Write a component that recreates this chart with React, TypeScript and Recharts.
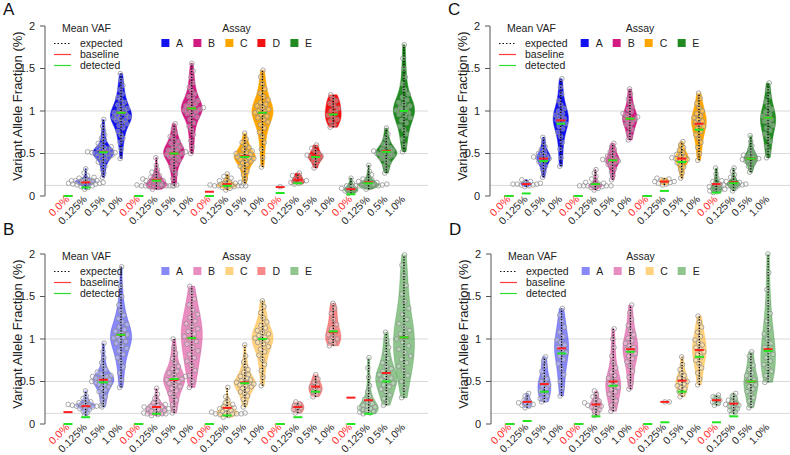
import React from "react";
import { CartesianGrid, ComposedChart, Scatter, XAxis, YAxis } from "recharts";

const FONT = '"Liberation Sans", Arial, Helvetica, sans-serif';
const LEVELS = ["0.0%", "0.125%", "0.5%", "1.0%"];
const Y_TICKS = [0, 0.5, 1, 1.5, 2];
const GRID_VALUES = [0, 0.125, 0.5, 1];

const ASSAY_COLORS: Record<string, string> = {
  A: "#1212f0",
  B: "#d21c82",
  C: "#ffa500",
  D: "#f31212",
  E: "#218b21",
};

// ---- panel A (per assay: points for 0.0%, 0.125%, 0.5%, 1.0%) ----
const pA_A = [
  [],
  [0.08, 0.1, 0.11, 0.12, 0.13, 0.13, 0.14, 0.14, 0.15, 0.15, 0.15, 0.16, 0.16, 0.16, 0.17, 0.17, 0.17, 0.17, 0.18, 0.18, 0.18, 0.18, 0.18, 0.19, 0.19, 0.2, 0.21, 0.22, 0.24, 0.27, 0.32],
  [0.22, 0.27, 0.31, 0.35, 0.38, 0.4, 0.42, 0.44, 0.45, 0.46, 0.47, 0.48, 0.49, 0.5, 0.5, 0.51, 0.51, 0.52, 0.52, 0.53, 0.54, 0.55, 0.56, 0.57, 0.58, 0.6, 0.62, 0.65, 0.68, 0.72, 0.77, 0.82, 0.9],
  [0.44, 0.55, 0.63, 0.68, 0.72, 0.76, 0.8, 0.83, 0.85, 0.87, 0.89, 0.9, 0.91, 0.92, 0.93, 0.95, 0.96, 0.97, 0.98, 1.0, 1.01, 1.03, 1.05, 1.07, 1.1, 1.13, 1.16, 1.2, 1.25, 1.3, 1.36, 1.44],
];
const pA_B = [
  [],
  [0.08, 0.1, 0.11, 0.12, 0.12, 0.12, 0.12, 0.12, 0.12, 0.12, 0.13, 0.14, 0.15, 0.16, 0.17, 0.18, 0.18, 0.19, 0.2, 0.21, 0.22, 0.24, 0.26, 0.28, 0.31, 0.36, 0.45],
  [0.12, 0.13, 0.2, 0.26, 0.3, 0.34, 0.37, 0.4, 0.42, 0.44, 0.46, 0.47, 0.48, 0.49, 0.5, 0.51, 0.52, 0.53, 0.54, 0.55, 0.57, 0.58, 0.6, 0.62, 0.64, 0.67, 0.7, 0.74, 0.79, 0.85],
  [0.5, 0.58, 0.65, 0.72, 0.78, 0.82, 0.86, 0.9, 0.93, 0.95, 0.97, 0.99, 1.0, 1.01, 1.02, 1.03, 1.04, 1.05, 1.06, 1.08, 1.1, 1.12, 1.14, 1.17, 1.2, 1.24, 1.28, 1.33, 1.4, 1.47, 1.56],
];
const pA_C = [
  [],
  [0.07, 0.09, 0.1, 0.11, 0.12, 0.12, 0.12, 0.12, 0.12, 0.12, 0.13, 0.13, 0.14, 0.14, 0.15, 0.15, 0.16, 0.17, 0.18, 0.19, 0.21, 0.23, 0.26],
  [0.15, 0.2, 0.25, 0.29, 0.32, 0.35, 0.37, 0.39, 0.41, 0.42, 0.43, 0.44, 0.45, 0.46, 0.47, 0.48, 0.49, 0.5, 0.51, 0.53, 0.55, 0.57, 0.6, 0.63, 0.67, 0.74],
  [0.34, 0.45, 0.55, 0.63, 0.7, 0.75, 0.8, 0.84, 0.87, 0.9, 0.92, 0.94, 0.96, 0.98, 0.99, 1.0, 1.02, 1.04, 1.06, 1.08, 1.1, 1.13, 1.17, 1.21, 1.26, 1.32, 1.4, 1.48],
];
const pA_D = [
  [0.11],
  [0.14, 0.15, 0.16, 0.17, 0.18, 0.2, 0.22, 0.24, 0.27],
  [0.33, 0.38, 0.41, 0.43, 0.45, 0.46, 0.47, 0.48, 0.5, 0.53, 0.56, 0.6],
  [0.81, 0.84, 0.88, 0.9, 0.93, 0.95, 0.98, 1.0, 1.03, 1.06, 1.09, 1.12, 1.15, 1.19],
];
const pA_E = [
  [0.03, 0.05, 0.06, 0.07, 0.08, 0.09, 0.1, 0.12, 0.15, 0.21],
  [0.08, 0.1, 0.11, 0.12, 0.12, 0.12, 0.12, 0.12, 0.13, 0.13, 0.14, 0.14, 0.15, 0.15, 0.16, 0.17, 0.18, 0.19, 0.2, 0.22, 0.25, 0.29, 0.36],
  [0.27, 0.32, 0.36, 0.39, 0.42, 0.44, 0.46, 0.47, 0.48, 0.49, 0.5, 0.51, 0.52, 0.53, 0.54, 0.55, 0.57, 0.59, 0.61, 0.64, 0.68, 0.73, 0.8],
  [0.52, 0.6, 0.67, 0.73, 0.78, 0.82, 0.86, 0.89, 0.92, 0.94, 0.96, 0.98, 1.0, 1.01, 1.02, 1.04, 1.06, 1.08, 1.1, 1.13, 1.16, 1.2, 1.25, 1.32, 1.4, 1.5, 1.62, 1.78],
];
const pA_base = [
  [0, 0.16, 0.52, 0.98],
  [0, 0.19, 0.5, 1.03],
  [0.05, 0.14, 0.47, 0.98],
  [0.105, 0.19, 0.47, 0.97],
  [0.08, 0.16, 0.53, 1.0],
];
const pA_det = [
  [0, 0.1, 0.515, 0.98],
  [0, 0.18, 0.5, 1.03],
  [0, 0.12, 0.46, 0.98],
  [0.035, 0.15, 0.46, 0.96],
  [0.02, 0.15, 0.52, 1.0],
];

// ---- panel B ----
const pB_A = [
  [],
  [0.1, 0.13, 0.15, 0.17, 0.18, 0.19, 0.2, 0.21, 0.21, 0.22, 0.22, 0.22, 0.22, 0.23, 0.24, 0.25, 0.26, 0.28, 0.3, 0.33, 0.39],
  [0.2, 0.24, 0.28, 0.32, 0.35, 0.38, 0.4, 0.42, 0.44, 0.46, 0.47, 0.48, 0.49, 0.5, 0.51, 0.52, 0.53, 0.54, 0.55, 0.56, 0.56, 0.57, 0.59, 0.61, 0.64, 0.68, 0.72, 0.78, 0.85, 0.95],
  [0.43, 0.52, 0.6, 0.67, 0.73, 0.78, 0.82, 0.86, 0.89, 0.92, 0.95, 0.97, 0.99, 1.01, 1.02, 1.03, 1.05, 1.07, 1.09, 1.11, 1.14, 1.17, 1.2, 1.24, 1.28, 1.33, 1.4, 1.5, 1.62, 1.85],
];
const pB_B = [
  [],
  [0.1, 0.11, 0.12, 0.12, 0.12, 0.13, 0.14, 0.15, 0.16, 0.17, 0.18, 0.18, 0.19, 0.2, 0.2, 0.21, 0.22, 0.23, 0.25, 0.27, 0.3, 0.35, 0.42],
  [0.13, 0.18, 0.23, 0.28, 0.32, 0.36, 0.39, 0.42, 0.44, 0.46, 0.48, 0.5, 0.51, 0.52, 0.53, 0.54, 0.56, 0.58, 0.6, 0.62, 0.65, 0.68, 0.72, 0.77, 0.83, 0.9, 1.0],
  [0.43, 0.5, 0.57, 0.63, 0.69, 0.74, 0.78, 0.82, 0.86, 0.9, 0.94, 0.97, 1.0, 1.03, 1.06, 1.09, 1.12, 1.15, 1.18, 1.21, 1.25, 1.29, 1.34, 1.4, 1.47, 1.55, 1.62],
];
const pB_C = [
  [],
  [0.08, 0.1, 0.11, 0.12, 0.12, 0.12, 0.12, 0.12, 0.13, 0.14, 0.15, 0.16, 0.17, 0.18, 0.19, 0.2, 0.21, 0.23, 0.25, 0.28, 0.32, 0.43],
  [0.2, 0.25, 0.29, 0.33, 0.36, 0.38, 0.4, 0.42, 0.44, 0.45, 0.46, 0.47, 0.48, 0.49, 0.5, 0.51, 0.52, 0.54, 0.56, 0.58, 0.61, 0.64, 0.68, 0.73, 0.8, 0.93],
  [0.45, 0.55, 0.63, 0.7, 0.76, 0.81, 0.85, 0.88, 0.91, 0.94, 0.96, 0.98, 1.0, 1.01, 1.02, 1.04, 1.06, 1.08, 1.1, 1.13, 1.16, 1.2, 1.25, 1.31, 1.38, 1.45],
];
const pB_D = [
  [],
  [0.13, 0.15, 0.17, 0.19, 0.2, 0.22, 0.24, 0.26],
  [0.32, 0.35, 0.38, 0.4, 0.42, 0.44, 0.46, 0.49, 0.53, 0.58],
  [0.92, 0.95, 0.98, 1.0, 1.02, 1.05, 1.08, 1.12, 1.17, 1.23, 1.3, 1.36, 1.42],
];
const pB_E = [
  [],
  [0.12, 0.13, 0.14, 0.15, 0.16, 0.17, 0.18, 0.19, 0.2, 0.21, 0.22, 0.24, 0.26, 0.29, 0.33, 0.38, 0.45, 0.55, 0.66, 0.78],
  [0.22, 0.26, 0.3, 0.34, 0.38, 0.41, 0.44, 0.46, 0.48, 0.5, 0.52, 0.54, 0.56, 0.58, 0.6, 0.62, 0.65, 0.68, 0.72, 0.77, 0.83, 0.9, 0.98, 1.08],
  [0.31, 0.42, 0.5, 0.57, 0.63, 0.68, 0.72, 0.76, 0.8, 0.84, 0.88, 0.92, 0.96, 1.0, 1.03, 1.06, 1.1, 1.14, 1.18, 1.23, 1.29, 1.36, 1.44, 1.53, 1.63, 1.75, 1.87, 1.99],
];
const pB_base = [
  [0.14, 0.21, 0.52, 1.05],
  [0, 0.2, 0.52, 1.01],
  [0, 0.19, 0.49, 1.0],
  [0, 0.2, 0.44, 1.08],
  [0.31, 0.28, 0.6, 1.02],
];
const pB_det = [
  [0, 0.08, 0.49, 1.05],
  [0, 0.12, 0.53, 1.01],
  [0, 0.1, 0.48, 1.0],
  [0, 0.08, 0.38, 1.09],
  [0, 0.12, 0.5, 1.02],
];

// ---- panel C ----
const pC_A = [
  [],
  [0.11, 0.12, 0.13, 0.13, 0.14, 0.14, 0.14, 0.15, 0.15, 0.15, 0.16, 0.17, 0.19],
  [0.22, 0.28, 0.32, 0.35, 0.38, 0.4, 0.42, 0.43, 0.44, 0.45, 0.46, 0.47, 0.48, 0.5, 0.52, 0.55, 0.58, 0.63, 0.69],
  [0.35, 0.45, 0.55, 0.63, 0.7, 0.75, 0.79, 0.82, 0.85, 0.87, 0.89, 0.91, 0.93, 0.95, 0.97, 1.0, 1.03, 1.07, 1.12, 1.2, 1.28, 1.38],
];
const pC_B = [
  [],
  [0.07, 0.09, 0.1, 0.11, 0.12, 0.12, 0.12, 0.12, 0.12, 0.12, 0.13, 0.14, 0.15, 0.16, 0.18, 0.2, 0.23, 0.27, 0.31],
  [0.19, 0.24, 0.28, 0.32, 0.35, 0.37, 0.39, 0.4, 0.41, 0.42, 0.43, 0.44, 0.45, 0.47, 0.49, 0.52, 0.55, 0.58, 0.62],
  [0.66, 0.7, 0.74, 0.78, 0.81, 0.84, 0.86, 0.88, 0.9, 0.91, 0.92, 0.93, 0.95, 0.97, 0.99, 1.02, 1.05, 1.09, 1.14, 1.2, 1.26],
];
const pC_C = [
  [],
  [0.13, 0.14, 0.15, 0.16, 0.17, 0.17, 0.18, 0.19, 0.2, 0.21],
  [0.21, 0.27, 0.31, 0.34, 0.37, 0.39, 0.41, 0.42, 0.43, 0.44, 0.45, 0.46, 0.47, 0.49, 0.51, 0.54, 0.57, 0.6, 0.64],
  [0.42, 0.5, 0.57, 0.63, 0.68, 0.72, 0.76, 0.79, 0.82, 0.84, 0.86, 0.88, 0.9, 0.92, 0.94, 0.97, 1.0, 1.04, 1.09, 1.15, 1.21],
];
const pC_E = [
  [0.04, 0.05, 0.06, 0.07, 0.08, 0.09, 0.1, 0.11, 0.12, 0.14, 0.17, 0.21, 0.26, 0.33],
  [0.06, 0.09, 0.11, 0.12, 0.12, 0.13, 0.13, 0.14, 0.14, 0.15, 0.15, 0.16, 0.17, 0.18, 0.2, 0.22, 0.25, 0.29, 0.33],
  [0.28, 0.32, 0.35, 0.38, 0.4, 0.41, 0.42, 0.43, 0.44, 0.45, 0.46, 0.47, 0.48, 0.5, 0.52, 0.55, 0.59, 0.64, 0.71],
  [0.45, 0.52, 0.58, 0.64, 0.69, 0.73, 0.77, 0.8, 0.83, 0.86, 0.88, 0.9, 0.92, 0.94, 0.96, 0.99, 1.02, 1.06, 1.11, 1.17, 1.25, 1.33],
];
const pC_base = [
  [0, 0.14, 0.44, 0.89],
  [0, 0.14, 0.42, 0.91],
  [0, 0.17, 0.44, 0.85],
  [0.14, 0.16, 0.44, 0.92],
];
const pC_det = [
  [0, 0.03, 0.41, 0.85],
  [0, 0.14, 0.42, 0.91],
  [0, 0.06, 0.4, 0.78],
  [0.04, 0.15, 0.44, 0.92],
];

// ---- panel D ----
const pD_A = [
  [],
  [0.19, 0.21, 0.22, 0.23, 0.24, 0.25, 0.26, 0.28, 0.3, 0.33, 0.36],
  [0.26, 0.28, 0.3, 0.33, 0.36, 0.39, 0.42, 0.44, 0.46, 0.48, 0.5, 0.53, 0.57, 0.62, 0.68, 0.74, 0.79],
  [0.33, 0.42, 0.5, 0.58, 0.65, 0.71, 0.76, 0.8, 0.84, 0.87, 0.9, 0.93, 0.96, 0.99, 1.03, 1.08, 1.14, 1.21, 1.28, 1.36],
];
const pD_B = [
  [],
  [0.1, 0.13, 0.15, 0.17, 0.19, 0.2, 0.21, 0.22, 0.23, 0.24, 0.25, 0.27, 0.29, 0.32, 0.35, 0.39],
  [0.15, 0.18, 0.22, 0.27, 0.31, 0.35, 0.38, 0.41, 0.43, 0.45, 0.47, 0.49, 0.51, 0.54, 0.57, 0.61, 0.66, 0.72, 0.8, 0.9, 1.0, 1.12],
  [0.41, 0.48, 0.55, 0.62, 0.68, 0.73, 0.77, 0.8, 0.83, 0.86, 0.88, 0.9, 0.92, 0.95, 0.98, 1.01, 1.05, 1.1, 1.16, 1.23, 1.31, 1.4],
];
const pD_C = [
  [],
  [0.26, 0.26],
  [0.32, 0.35, 0.38, 0.41, 0.43, 0.45, 0.47, 0.49, 0.5, 0.52, 0.54, 0.57, 0.6, 0.64, 0.7, 0.79],
  [0.46, 0.53, 0.6, 0.66, 0.71, 0.75, 0.79, 0.82, 0.85, 0.88, 0.9, 0.93, 0.96, 0.99, 1.03, 1.08, 1.14, 1.2, 1.27],
];
const pD_E = [
  [0.22, 0.24, 0.26, 0.28, 0.3, 0.32, 0.34],
  [0.12, 0.14, 0.16, 0.18, 0.2, 0.21, 0.22, 0.23, 0.24, 0.26, 0.28, 0.3, 0.33, 0.36],
  [0.19, 0.23, 0.27, 0.31, 0.35, 0.38, 0.41, 0.44, 0.46, 0.48, 0.5, 0.52, 0.54, 0.57, 0.6, 0.64, 0.69, 0.75, 0.8, 0.85],
  [0.49, 0.53, 0.57, 0.62, 0.66, 0.7, 0.74, 0.78, 0.82, 0.86, 0.9, 0.95, 1.0, 1.06, 1.13, 1.21, 1.3, 1.42, 1.58, 1.78, 2.0],
];
const pD_base = [
  [0, 0.26, 0.47, 0.89],
  [0, 0.23, 0.5, 0.88],
  [0, 0.26, 0.51, 0.87],
  [0.28, 0.24, 0.5, 0.88],
];
const pD_det = [
  [0, 0.035, 0.38, 0.83],
  [0, 0.09, 0.45, 0.85],
  [0, 0.02, 0.38, 0.79],
  [0.02, 0.09, 0.5, 0.86],
];

type PanelDef = {
  letter: string;
  left: number;
  top: number;
  width: number;
  height: number;
  marginTop: number;
  marginRight: number;
  xAxisHeight: number;
  domain: [number, number];
  assays: string[];
  points: number[][][];
  base: number[][];
  det: number[][];
  faded: boolean;
  halfWidth: number;
};

const YAXIS_W = 45;

const PANELS: PanelDef[] = [
  {
    letter: "A", left: 0, top: 0, width: 430, height: 230, marginTop: 26, marginRight: 2, xAxisHeight: 34,
    domain: [-0.3, 21.36], assays: ["A", "B", "C", "D", "E"],
    points: [pA_A, pA_B, pA_C, pA_D, pA_E], base: pA_base, det: pA_det, faded: false, halfWidth: 0.6,
  },
  {
    letter: "B", left: 0, top: 225, width: 430, height: 230, marginTop: 29, marginRight: 2, xAxisHeight: 31,
    domain: [-0.3, 21.36], assays: ["A", "B", "C", "D", "E"],
    points: [pB_A, pB_B, pB_C, pB_D, pB_E], base: pB_base, det: pB_det, faded: true, halfWidth: 0.6,
  },
  {
    letter: "C", left: 445, top: 0, width: 345, height: 230, marginTop: 26, marginRight: 0, xAxisHeight: 34,
    domain: [-0.1, 17.27], assays: ["A", "B", "C", "E"],
    points: [pC_A, pC_B, pC_C, pC_E], base: pC_base, det: pC_det, faded: false, halfWidth: 0.45,
  },
  {
    letter: "D", left: 446, top: 225, width: 344, height: 230, marginTop: 29, marginRight: 0, xAxisHeight: 31,
    domain: [-0.1, 17.27], assays: ["A", "B", "C", "E"],
    points: [pD_A, pD_B, pD_C, pD_E], base: pD_base, det: pD_det, faded: true, halfWidth: 0.45,
  },
];

type XY = { x: number; y: number };

function bandwidth(v: number[]) {
  const n = v.length;
  const m = v.reduce((s, x) => s + x, 0) / n;
  const sd = Math.sqrt(v.reduce((s, x) => s + (x - m) ** 2, 0) / Math.max(1, n - 1));
  const s = [...v].sort((a, b) => a - b);
  const q = (f: number) => {
    const i = f * (n - 1);
    const lo = Math.floor(i);
    return s[lo] + (s[Math.min(n - 1, lo + 1)] - s[lo]) * (i - lo);
  };
  const iqr = (q(0.75) - q(0.25)) / 1.34;
  const spread = iqr > 0 ? Math.min(sd, iqr) : sd;
  return Math.max(0.9 * spread * Math.pow(n, -0.2), 0.012);
}

function buildPanel(p: PanelDef) {
  const pxX = (p.width - YAXIS_W - p.marginRight) / (p.domain[1] - p.domain[0]);
  const pxY = (p.height - p.marginTop - p.xAxisHeight) / 2;
  const violins: { key: string; color: string; outline: XY[]; stem: XY[] }[] = [];
  const dots: XY[] = [];
  const base: XY[] = [];
  const det: XY[] = [];

  p.assays.forEach((assay, ai) => {
    p.points[ai].forEach((vals, li) => {
      const cx = ai * 4 + li + 1;
      base.push({ x: cx, y: p.base[ai][li] });
      det.push({ x: cx, y: p.det[ai][li] });
      if (vals.length === 0) return;

      const lo = Math.min(...vals);
      const hi = Math.max(...vals);
      let hwAt = (_y: number) => 0;
      if (vals.length >= 3 && hi - lo > 0.02) {
        const bw = bandwidth(vals);
        const dens = (y: number) => vals.reduce((s, v) => s + Math.exp(-0.5 * ((y - v) / bw) ** 2), 0);
        const ys = Array.from({ length: 33 }, (_, k) => lo + ((hi - lo) * k) / 32);
        const ds = ys.map(dens);
        const dmax = Math.max(...ds);
        const half = p.halfWidth * Math.min(1, 0.35 + vals.length / 35);
        hwAt = (y: number) => (half * dens(y)) / dmax;
        const right = ys.map((y, k) => ({ x: cx + (half * ds[k]) / dmax, y }));
        const left = ys.map((y, k) => ({ x: cx - (half * ds[k]) / dmax, y })).reverse();
        violins.push({
          key: `${assay}-${li}`,
          color: ASSAY_COLORS[assay],
          outline: [{ x: cx, y: lo }, ...right, { x: cx, y: hi }, ...left],
          stem: [{ x: cx, y: lo }, { x: cx, y: hi }],
        });
      }

      // swarm the dots inside / just around the violin
      const sorted = [...vals].sort((a, b) => a - b);
      const placed: { px: number; py: number }[] = [];
      sorted.forEach((v, j) => {
        const room = hwAt(v) * pxX;
        const target = (((j * 0.618034) % 1) * 2 - 1) * room * 0.75;
        const limit = room + 9;
        const py = v * pxY;
        let best = target;
        for (let s = 0; s < 60; s++) {
          const cand = target + (s % 2 ? 1 : -1) * Math.ceil(s / 2) * 1.1;
          if (Math.abs(cand) > limit) continue;
          if (placed.every((q) => (q.px - cand) ** 2 + (q.py - py) ** 2 >= 13)) {
            best = cand;
            break;
          }
        }
        placed.push({ px: best, py });
        dots.push({ x: cx + best / pxX, y: v });
      });
    });
  });
  return { violins, dots, base, det };
}

function ViolinBody(props: any) {
  const { points, tone, alpha } = props;
  if (!points || points.length < 3) return null;
  const d = points.map((pt: any, k: number) => `${k ? "L" : "M"}${pt.x},${pt.y}`).join("") + "Z";
  return <path d={d} fill={tone} fillOpacity={alpha} stroke={tone} strokeOpacity={alpha} strokeWidth={0.5} />;
}

function Stem(props: any) {
  const { points } = props;
  if (!points || points.length < 2) return null;
  return (
    <line
      x1={points[0].x}
      y1={points[0].y}
      x2={points[1].x}
      y2={points[1].y}
      stroke="#000"
      strokeWidth={1.3}
      strokeDasharray="1.2 1.6"
    />
  );
}

const hiddenShape = () => <g />;

const dotShape = (props: any) => (
  <circle cx={props.cx} cy={props.cy} r={2.3} fill="rgba(255,255,255,0.3)" stroke="#8e8e8e" strokeWidth={0.75} />
);

const meanShape = (color: string) => (props: any) => (
  <line x1={props.cx - 4.5} x2={props.cx + 4.5} y1={props.cy} y2={props.cy} stroke={color} strokeWidth={2} />
);

function LevelTick(props: any) {
  const { x, y, payload } = props;
  const idx = Math.round(payload.value) - 1;
  const label = LEVELS[((idx % 4) + 4) % 4];
  const ax = x + 2;
  return (
    <text
      x={ax}
      y={y}
      transform={`rotate(-45 ${ax} ${y})`}
      textAnchor="end"
      fontSize={10.5}
      fontFamily={FONT}
      fill={label === "0.0%" ? "#ff2a2a" : "#2a2a2a"}
    >
      {label}
    </text>
  );
}

const LEGEND_ROWS = [
  { label: "expected", stroke: "#111", dash: "1.5 2" },
  { label: "baseline", stroke: "#ff3b3b", dash: undefined },
  { label: "detected", stroke: "#2fdc2f", dash: undefined },
];

function MeanLegend({ p }: { p: PanelDef }) {
  return (
    <div
      style={{
        position: "absolute",
        left: YAXIS_W + 9,
        top: p.marginTop - 3.5,
        fontSize: 10.5,
        lineHeight: "11px",
        color: "#222",
        fontFamily: FONT,
      }}
    >
      <div style={{ marginLeft: 8, marginBottom: 4 }}>Mean VAF</div>
      {LEGEND_ROWS.map((r) => (
        <div key={r.label} style={{ display: "flex", alignItems: "center", height: 11 }}>
          <svg width={17} height={11}>
            <line x1={0} x2={17} y1={5.5} y2={5.5} stroke={r.stroke} strokeWidth={1.2} strokeDasharray={r.dash} />
          </svg>
          <span style={{ marginLeft: 9 }}>{r.label}</span>
        </div>
      ))}
    </div>
  );
}

function AssayLegend({ p }: { p: PanelDef }) {
  const plotW = p.width - YAXIS_W - p.marginRight;
  return (
    <div
      style={{
        position: "absolute",
        left: YAXIS_W + plotW / 2,
        top: p.marginTop - 3.5,
        transform: "translateX(-50%)",
        fontSize: 10.5,
        lineHeight: "11px",
        color: "#222",
        fontFamily: FONT,
        textAlign: "center",
        whiteSpace: "nowrap",
      }}
    >
      <div style={{ marginBottom: 4 }}>Assay</div>
      <div style={{ display: "flex", alignItems: "center", height: 11 }}>
        {p.assays.map((a, k) => (
          <div key={a} style={{ display: "flex", alignItems: "center", marginRight: k === p.assays.length - 1 ? 0 : 10 }}>
            <span
              style={{
                display: "inline-block",
                width: 8,
                height: 8,
                background: ASSAY_COLORS[a],
                opacity: p.faded ? 0.5 : 1,
                marginRight: 7,
              }}
            />
            <span>{a}</span>
          </div>
        ))}
      </div>
    </div>
  );
}

function Panel({ p }: { p: PanelDef }) {
  const { violins, dots, base, det } = buildPanel(p);
  const alpha = p.faded ? 0.5 : 1;
  const ticks = Array.from({ length: p.assays.length * 4 }, (_, k) => k + 1);
  return (
    <div style={{ position: "absolute", left: p.left, top: p.top, width: p.width, height: p.height }}>
      <ComposedChart
        width={p.width}
        height={p.height}
        margin={{ top: p.marginTop, right: p.marginRight, bottom: 0, left: 0 }}
      >
        <CartesianGrid vertical={false} horizontalValues={GRID_VALUES} stroke="#d9d9d9" />
        <XAxis
          type="number"
          dataKey="x"
          domain={p.domain}
          ticks={ticks}
          interval={0}
          height={p.xAxisHeight}
          axisLine={false}
          tickLine={false}
          tickSize={0}
          tickMargin={4}
          tick={(props: any) => <LevelTick {...props} />}
        />
        <YAxis
          type="number"
          dataKey="y"
          domain={[0, 2]}
          ticks={Y_TICKS}
          width={YAXIS_W}
          stroke="#555"
          tickSize={5}
          tickMargin={5}
          tick={{ fill: "#222", fontSize: 11, fontFamily: FONT }}
          label={{
            content: (lp: any) => {
              const vb = lp.viewBox || { x: 0, y: p.marginTop, height: 170 };
              const cx = vb.x + 17;
              const cy = vb.y + vb.height / 2 - 5;
              return (
                <text
                  x={cx}
                  y={cy}
                  transform={`rotate(-90 ${cx} ${cy})`}
                  textAnchor="middle"
                  dominantBaseline="central"
                  fontSize={13}
                  fontFamily={FONT}
                  fill="#222"
                >
                  Variant Allele Fraction (%)
                </text>
              );
            },
          }}
        />
        {violins.map((v) => (
          <Scatter
            key={`v-${v.key}`}
            data={v.outline}
            shape={hiddenShape}
            line={<ViolinBody tone={v.color} alpha={alpha} />}
            isAnimationActive={false}
          />
        ))}
        <Scatter data={dots} shape={dotShape} isAnimationActive={false} />
        {violins.map((v) => (
          <Scatter key={`s-${v.key}`} data={v.stem} shape={hiddenShape} line={<Stem />} isAnimationActive={false} />
        ))}
        <Scatter data={base} shape={meanShape("#ff1f1f")} isAnimationActive={false} />
        <Scatter data={det} shape={meanShape("#22e622")} isAnimationActive={false} />
      </ComposedChart>
      <MeanLegend p={p} />
      <AssayLegend p={p} />
      <div
        style={{
          position: "absolute",
          left: 3,
          top: p.top === 0 ? 1 : -4,
          fontSize: 17,
          lineHeight: "17px",
          fontFamily: FONT,
          color: "#111",
        }}
      >
        {p.letter}
      </div>
    </div>
  );
}

export default function App() {
  return (
    <div
      style={{
        position: "absolute",
        left: 0,
        top: 0,
        width: 790,
        height: 455,
        background: "#fff",
        overflow: "hidden",
        fontFamily: FONT,
      }}
    >
      {PANELS.map((p) => (
        <Panel key={p.letter} p={p} />
      ))}
    </div>
  );
}
